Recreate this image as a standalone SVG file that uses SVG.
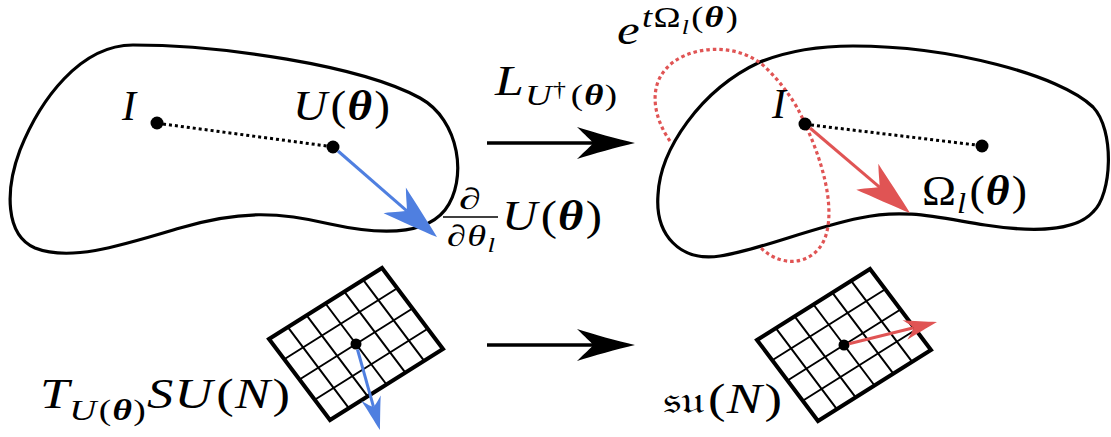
<svg xmlns="http://www.w3.org/2000/svg" xmlns:xlink="http://www.w3.org/1999/xlink" width="1111" height="437" viewBox="0 0 1111 437">
<style>
.blob{fill:none;stroke:#000;stroke-width:3.2}
.dotline{fill:none;stroke:#000;stroke-width:3;stroke-dasharray:3 3}
.reddot{fill:none;stroke:#e05454;stroke-width:3.2;stroke-dasharray:3.5 3}
.pt{fill:#000}
.blue{stroke:#4f7fe0;stroke-width:3;fill:none}
.red{stroke:#e05454;stroke-width:3;fill:none}
.blk{stroke:#000;stroke-width:3.5;fill:none}
.gb{fill:none;stroke:#000;stroke-width:4;stroke-linejoin:miter}
.gl{fill:none;stroke:#000;stroke-width:2}
text{font-family:"Liberation Serif","DejaVu Serif",serif;fill:#000;font-size:42px}
.it{font-style:italic}
.bi{font-style:italic;font-weight:bold}
.s{font-size:30px}
.ss{font-size:21px}
</style>
<defs>
<marker id="hb" markerUnits="userSpaceOnUse" orient="auto" viewBox="-60 -20 64 40" markerWidth="64" markerHeight="40" refX="-40" refY="0" overflow="visible">
<path d="M0,0 C-15,-5 -40,-12 -56,-17 C-48,-8 -42,-3 -40,0 C-42,3 -48,8 -56,17 C-40,12 -15,5 0,0Z" fill="#4f7fe0"/>
</marker>
<marker id="hr" markerUnits="userSpaceOnUse" orient="auto" viewBox="-60 -20 64 40" markerWidth="64" markerHeight="40" refX="-40" refY="0" overflow="visible">
<path d="M0,0 C-15,-5 -40,-12 -56,-17 C-48,-8 -42,-3 -40,0 C-42,3 -48,8 -56,17 C-40,12 -15,5 0,0Z" fill="#e05454"/>
</marker>
<marker id="hk" markerUnits="userSpaceOnUse" orient="auto" viewBox="-62 -20 66 40" markerWidth="66" markerHeight="40" refX="-42" refY="0" overflow="visible">
<path d="M0,0 C-18,-4 -42,-11 -58,-16 C-50,-8 -44,-3 -42,0 C-44,3 -50,8 -58,16 C-42,11 -18,4 0,0Z" fill="#000"/>
</marker>
<marker id="sb" markerUnits="userSpaceOnUse" orient="auto" viewBox="-36 -12 40 24" markerWidth="40" markerHeight="24" refX="-24" refY="0" overflow="visible">
<path d="M0,0 C-10,-3 -24,-7 -33,-10 C-28,-5 -25,-2 -24,0 C-25,2 -28,5 -33,10 C-24,7 -10,3 0,0Z" fill="#4f7fe0"/>
</marker>
<marker id="sr" markerUnits="userSpaceOnUse" orient="auto" viewBox="-36 -12 40 24" markerWidth="40" markerHeight="24" refX="-24" refY="0" overflow="visible">
<path d="M0,0 C-10,-3 -24,-7 -33,-10 C-28,-5 -25,-2 -24,0 C-25,2 -28,5 -33,10 C-24,7 -10,3 0,0Z" fill="#e05454"/>
</marker>
<g id="grid">
<path class="gl" d="M287.83,327.17L348.83,408.17M306.67,315.33L367.67,396.33M325.5,303.5L386.5,384.5M344.33,291.67L405.33,372.67M363.17,279.83L424.17,360.83M284.25,359.25L397.25,288.25M299.5,379.5L412.5,308.5M314.75,399.75L427.75,328.75"/>
<path class="gb" d="M269,339L382,268L443,349L330,420Z"/>
<circle class="pt" cx="356" cy="344" r="5.5"/>
</g>
</defs>

<g id="manifold-left">
<path class="blob" d="M133,45 C220,45 360,65 420,98 C460,120 468,180 445,210 C425,235 380,235 330,224 C280,212 240,210 180,228 C120,246 70,262 35,248 C5,235 5,190 20,150 C40,100 80,45 133,45Z"/>
<circle class="pt" cx="157" cy="123" r="6.5"/>
<circle class="pt" cx="333" cy="147" r="6.5"/>
<text class="it" x="122" y="120">I</text>
<text x="293" y="120" textLength="97" lengthAdjust="spacingAndGlyphs"><tspan class="it">U</tspan><tspan dx="3">(</tspan><tspan class="bi" dx="1">θ</tspan><tspan dx="2">)</tspan></text>
</g>

<g id="manifold-right">
<path class="blob" d="M853,46 C950,46 1060,75 1093,107 C1115,130 1112,195 1093,212 C1075,232 1030,232 985,225 C940,218 905,208 860,218 C810,228 760,250 720,256 C680,262 655,235 658,195 C660,150 700,90 760,62 C790,50 820,46 853,46Z"/>
<path class="reddot" d="M670,141 C655,120 648,90 665,70 C685,45 740,40 768,70 C790,92 800,112 805,124 C822,160 835,205 826,235 C818,262 785,272 760,247"/>
<circle class="pt" cx="805" cy="124" r="6.5"/>
<circle class="pt" cx="982" cy="146" r="6.5"/>
<text class="it" x="772" y="118">I</text>
<text x="922" y="205" textLength="105" lengthAdjust="spacingAndGlyphs"><tspan>Ω</tspan><tspan class="it s" dy="8" dx="1">l</tspan><tspan dy="-8" dx="3">(</tspan><tspan class="bi" dx="1">θ</tspan><tspan dx="2">)</tspan></text>
<text x="617" y="44" textLength="121" lengthAdjust="spacingAndGlyphs"><tspan class="it">e</tspan><tspan class="it s" dy="-17" dx="2">t</tspan><tspan class="s" dx="1">Ω</tspan><tspan class="it ss" dy="7" dx="1">l</tspan><tspan class="s" dy="-7" dx="2">(</tspan><tspan class="bi s" dx="1">θ</tspan><tspan class="s" dx="2">)</tspan></text>
</g>

<g id="tangent-left">
<use xlink:href="#grid"/>
<text x="40" y="408" textLength="250" lengthAdjust="spacingAndGlyphs"><tspan class="it">T</tspan><tspan class="it s" dy="12">U</tspan><tspan class="s" dx="2">(</tspan><tspan class="bi s" dx="1">θ</tspan><tspan class="s" dx="1">)</tspan><tspan class="it" dy="-12" dx="1">S</tspan><tspan class="it" dx="1">U</tspan><tspan dx="3">(</tspan><tspan class="it" dx="1">N</tspan><tspan dx="2">)</tspan></text>
</g>

<g id="tangent-right">
<use xlink:href="#grid" transform="translate(488,1)"/>
<text x="663" y="413" textLength="119" lengthAdjust="spacingAndGlyphs"><tspan font-size="38">𝔰𝔲</tspan><tspan dx="3">(</tspan><tspan class="it" dx="1">N</tspan><tspan dx="2">)</tspan></text>
</g>

<g id="labels">
<text x="495" y="95" textLength="122" lengthAdjust="spacingAndGlyphs"><tspan class="it">L</tspan><tspan class="it s" dy="10" dx="1">U</tspan><tspan class="ss" dy="-9" dx="1">†</tspan><tspan class="s" dy="9" dx="4">(</tspan><tspan class="bi s" dx="1">θ</tspan><tspan class="s" dx="1">)</tspan></text>
<text class="s" x="459" y="209" textLength="22" lengthAdjust="spacingAndGlyphs">∂</text>
<line x1="443" y1="217" x2="498" y2="217" stroke="#000" stroke-width="1.5"/>
<text class="s" x="447" y="246" textLength="48" lengthAdjust="spacingAndGlyphs"><tspan>∂</tspan><tspan class="it" dx="1">θ</tspan><tspan class="it ss" dy="6" dx="1">l</tspan></text>
<text x="502" y="230" textLength="100" lengthAdjust="spacingAndGlyphs"><tspan class="it">U</tspan><tspan dx="3">(</tspan><tspan class="bi" dx="1">θ</tspan><tspan dx="2">)</tspan></text>
</g>

<g id="connectors">
<line class="dotline" x1="163" y1="124" x2="327" y2="146"/>
<line class="dotline" x1="811" y1="125" x2="976" y2="145"/>
<line class="blue" x1="338" y1="151" x2="406.8" y2="210.8" marker-end="url(#hb)"/>
<line class="red" x1="810" y1="128" x2="879.5" y2="187.1" marker-end="url(#hr)"/>
<line class="blk" x1="487" y1="143" x2="593" y2="143" marker-end="url(#hk)"/>
<line class="blk" x1="487" y1="345" x2="593" y2="345" marker-end="url(#hk)"/>
<line class="blue" x1="357.5" y1="349.5" x2="373.5" y2="406.9" marker-end="url(#sb)"/>
<line class="red" x1="849" y1="343.8" x2="913.7" y2="327.8" marker-end="url(#sr)"/>
</g>
</svg>
